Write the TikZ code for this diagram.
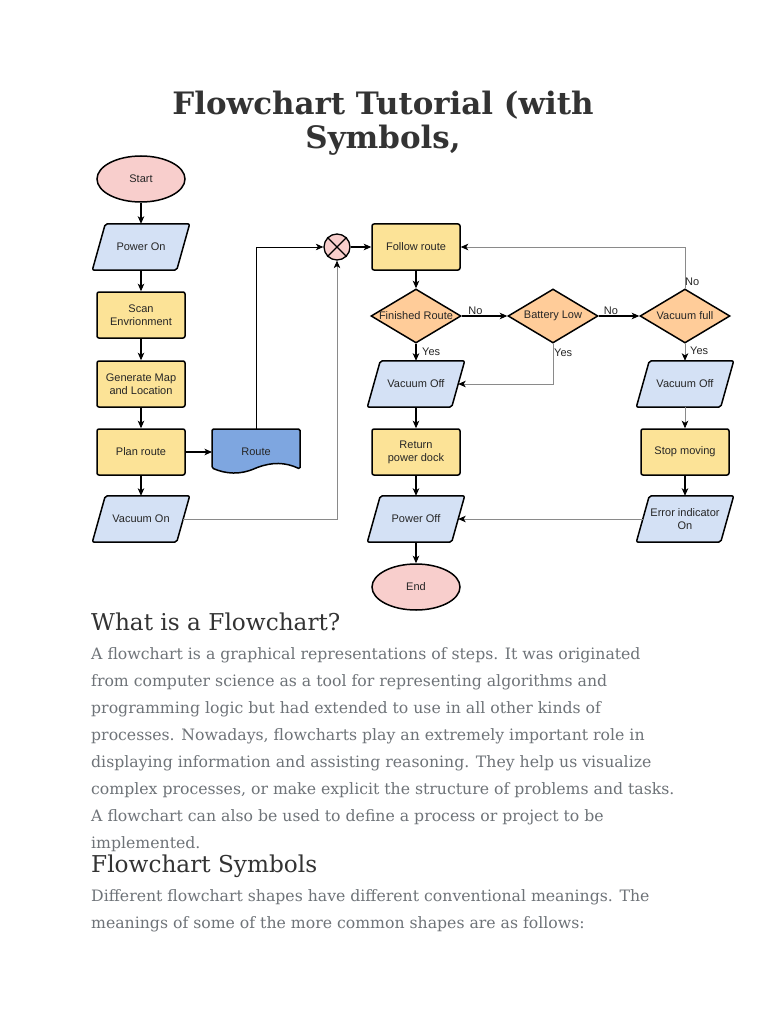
\documentclass[tikz,border=0pt]{standalone}
\usepackage{fontspec}
\setmainfont{DejaVu Serif}
\newfontfamily\nodefont{Liberation Sans}
\usetikzlibrary{shapes.geometric,arrows.meta,calc,backgrounds}
\definecolor{pinkf}{HTML}{F8CECC}
\definecolor{yellowf}{HTML}{FCE397}
\definecolor{orangef}{HTML}{FFCC99}
\definecolor{bluef}{HTML}{D4E1F5}
\definecolor{routef}{HTML}{7EA6E0}
\definecolor{titlec}{HTML}{333333}
\definecolor{bodyc}{HTML}{6E7378}
\definecolor{linegray}{HTML}{8A8A8A}
\begin{document}
\begin{tikzpicture}[x=1pt,y=-1pt,
  nfont/.style={font=\nodefont\fontsize{11}{13}\selectfont, text=black!85},
  base/.style={draw=black, line width=1.5pt, nfont, align=center, inner sep=1pt},
  box/.style={base, rectangle, rounded corners=2pt, fill=yellowf, minimum width=88pt, minimum height=46pt},
  io/.style={nfont, align=center, inner sep=1pt, rectangle, minimum width=84pt, minimum height=46pt},
  ioshape/.style={draw=black, line width=1.5pt, fill=bluef, rounded corners=2pt},
  term/.style={base, ellipse, fill=pinkf, minimum width=88pt, minimum height=46pt},
  dec/.style={base, diamond, fill=orangef, minimum width=90pt, minimum height=54pt, inner sep=0pt},
  lbl/.style={nfont, inner sep=0pt},
  arr/.style={line width=1.1pt, -{Stealth[length=7.5pt,width=6.5pt,inset=2pt]}},
  garr/.style={line width=0.9pt, draw=linegray, -{Stealth[length=7.5pt,width=6.5pt,inset=2pt,fill=black,color=black]}},
  elabel/.style={nfont, inner sep=1pt},
  bodytext/.style={anchor=base west, inner sep=0pt, text=bodyc, font=\fontsize{15.7}{18}\selectfont},
  heading/.style={anchor=base west, inner sep=0pt, text=titlec, font=\fontsize{23.2}{27}\selectfont},
  titletext/.style={anchor=base, inner sep=0pt, text=titlec, font=\bfseries\fontsize{30.9}{36}\selectfont}
]
\useasboundingbox (0,0) rectangle (768,1024);

% Title
\node[titletext] (t1) at (383,114.5) {Flowchart Tutorial (with};
\node[titletext] (t2) at (383,149) {Symbols,};

% Left column
\node[term] (start) at (141,179) {Start};
\node[io] (pon) at (141,247) {Power On};
\node[box] (scan) at (141,315) {Scan\\Envrionment};
\node[box] (gen) at (141,384) {Generate Map\\and Location};
\node[box] (plan) at (141,452) {Plan route};
\node[io] (von) at (141,519) {Vacuum On};

% Route document shape
\draw[line width=1.5pt, fill=routef, rounded corners=1.5pt] (212,429) -- (300,429) -- (300,469)
  .. controls (285,462) and (272,462) .. (256,468)
  .. controls (240,475) and (226,474) .. (212,468) -- cycle;
\node[lbl] (route) at (256,452) {Route};
\coordinate (routetop) at (256,429);

% Junction
\node[circle, draw=black, line width=1.3pt, fill=pinkf, minimum size=26pt, inner sep=0pt] (jx) at (337,247) {};
\draw[line width=1.1pt] (jx.north west) -- (jx.south east) (jx.north east) -- (jx.south west);

% Middle column
\node[box] (follow) at (416,247) {Follow route};
\node[dec, label={[lbl]center:Finished Route}] (fin) at (416,316) {};
\node[io] (voff1) at (416,384) {Vacuum Off};
\node[box] (ret) at (416,452) {Return\\power dock};
\node[io] (poff) at (416,519) {Power Off};
\node[term] (end) at (416,587) {End};

% Battery
\node[dec, label={[lbl]center:Battery Low}] (bat) at (553,316) {};

% Right column
\node[dec, label={[lbl]center:Vacuum full}] (vac) at (685,316) {};
\node[io] (voff2) at (685,384) {Vacuum Off};
\node[box] (stop) at (685,452) {Stop moving};
\node[io] (err) at (685,519) {Error indicator\\On};

% Parallelogram outlines (behind the texts)
\begin{scope}[on background layer]
\fill[white] (0,0) rectangle (768,1024);
\foreach \n in {pon,von,voff1,poff,voff2,err}{
  \draw[ioshape] ([xshift=6.5pt]\n.north west) -- ([xshift=6.5pt]\n.north east)
     -- ([xshift=-6.5pt]\n.south east) -- ([xshift=-6.5pt]\n.south west) -- cycle;
}
\end{scope}

% Connectors
\draw[arr] (start) -- (pon);
\draw[arr] (pon) -- (scan);
\draw[arr] (scan) -- (gen);
\draw[arr] (gen) -- (plan);
\draw[arr] (plan) -- (von);
\draw[arr] (plan.east) -- (212,452);
\draw[arr, line width=0.9pt] (routetop) |- (jx.west);
\draw[garr] (von.east) -| (jx.south);
\draw[arr] (jx.east) -- (follow.west);
\draw[arr] (follow) -- (fin.north);
\draw[arr] (fin.east) -- node[elabel, above, pos=0.3] {No} (bat.west);
\draw[arr] (bat.east) -- node[elabel, above, pos=0.3] {No} (vac.west);
\draw[garr] (vac.north) |- (follow.east);
\node[elabel, anchor=west] (nolab) at (684,282) {No};
\draw[arr] (fin.south) -- (voff1.north);
\node[elabel, anchor=west] (yes1) at (421,352) {Yes};
\draw[garr] (bat.south) |- (voff1.east);
\node[elabel, anchor=west] (yes2) at (553,353) {Yes};
\draw[arr] (voff1) -- (ret);
\draw[arr] (ret) -- (poff);
\draw[arr] (poff) -- (end);
\draw[garr] (vac.south) -- (voff2.north);
\node[elabel, anchor=west] (yes3) at (689,351) {Yes};
\draw[garr] (voff2) -- (stop);
\draw[arr] (stop) -- (err);
\draw[garr] (err.west) -- (poff.east);

% Text
\node[heading] (h1) at (91,630) {What is a Flowchart?};
\node[bodytext] (b1) at (91,659) {A flowchart is a graphical representations of steps. It was originated};
\node[bodytext] (b2) at (91,686) {from computer science as a tool for representing algorithms and};
\node[bodytext] (b3) at (91,713) {programming logic but had extended to use in all other kinds of};
\node[bodytext] (b4) at (91,740) {processes. Nowadays, flowcharts play an extremely important role in};
\node[bodytext] (b5) at (91,767) {displaying information and assisting reasoning. They help us visualize};
\node[bodytext] (b6) at (91,794) {complex processes, or make explicit the structure of problems and tasks.};
\node[bodytext] (b7) at (91,821) {A flowchart can also be used to define a process or project to be};
\node[bodytext] (b8) at (91,848) {implemented.};
\node[heading] (h2) at (91,872) {Flowchart Symbols};
\node[bodytext] (c1) at (91,901) {Different flowchart shapes have different conventional meanings. The};
\node[bodytext] (c2) at (91,928) {meanings of some of the more common shapes are as follows:};
\end{tikzpicture}
\end{document}
